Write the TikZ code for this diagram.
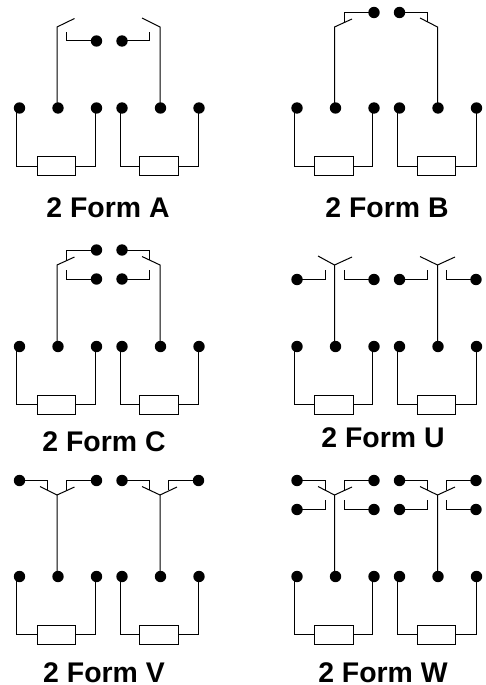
\documentclass[tikz,border=0pt]{standalone}
\usepackage{fontspec}
\setmainfont{Liberation Sans}
\usetikzlibrary{backgrounds}
\tikzset{
  wire/.style={draw=black,line width=1pt,line join=miter},
  dot/.style={circle,fill=black,draw=none,minimum size=11.4pt,inner sep=0pt},
  coilbox/.style={rectangle,draw=black,fill=white,line width=1pt,minimum width=38.5pt,minimum height=19pt,inner sep=0pt},
  formlabel/.style={font=\bfseries\fontsize{28.4}{30}\selectfont,inner sep=0pt,anchor=base}
}
% coil unit: three lower terminals, coil and its two leads
\newcommand{\coilunit}[4]{%
  \node[dot] (#1L) at (#2,#3) {};
  \node[dot] (#1M) at (#2+38.5,#3) {};
  \node[dot] (#1R) at (#2+77,#3) {};
  \node[coilbox] (#1B) at (#2+37,#3+58) {};
  \begin{scope}[on background layer]
    \draw[wire] ([xshift=-2pt+#4pt]#1L.center) |- (#1B.west);
    \draw[wire] ([xshift=-0.5pt+#4pt]#1R.center) |- (#1B.east);
  \end{scope}
}
% contact terminal: dot, horizontal wire, stub to (bend x, end y)
\newcommand{\contact}[5]{%
  \node[dot] (#1) at (#2,#3) {};
  \coordinate (#1e) at (#4,#5);
  \begin{scope}[on background layer]
    \draw[wire] (#1.center) -| (#1e);
  \end{scope}
}
% common arm with single blade
\newcommand{\armone}[6]{%
  \coordinate (#1k) at (#3,#4);
  \coordinate (#1a) at (#5,#6);
  \begin{scope}[on background layer]
    \draw[wire] (#2.center -| #1k) -- (#1k) -- (#1a);
  \end{scope}
}
% common arm with two blades
\newcommand{\armtwo}[8]{%
  \coordinate (#1k) at (#3,#4);
  \coordinate (#1a) at (#5,#6);
  \coordinate (#1b) at (#7,#8);
  \begin{scope}[on background layer]
    \draw[wire] (#2.center -| #1k) -- (#1k) -- (#1a);
    \draw[wire] (#1k) -- (#1b);
  \end{scope}
}
\begin{document}
\begin{tikzpicture}[x=1pt,y=-1pt]
\useasboundingbox (0,0) rectangle (485,685);
% ---- 2 Form A
\coilunit{aa}{19.5}{108}{-1}
\coilunit{ab}{122}{108}{0}
\contact{aa1}{96.5}{41}{66}{32}
\contact{ab1}{122}{41}{149}{32}
\armone{aaarm}{aaM}{57}{27}{74.5}{18.5}
\armone{abarm}{abM}{160}{27}{142}{18}
\node[formlabel] (la) at (108,217.5) {2 Form A};
% ---- 2 Form B
\coilunit{ba}{297}{108}{-1}
\coilunit{bb}{399.5}{108}{0}
\contact{ba1}{374}{12.5}{344}{22}
\contact{bb1}{399.5}{12.5}{427}{22}
\armone{baarm}{baM}{334.5}{27}{352}{19}
\armone{bbarm}{bbM}{437.5}{27}{420}{18}
\node[formlabel] (lb) at (387,217.5) {2 Form B};
% ---- 2 Form C
\coilunit{ca}{19.5}{346.5}{-1}
\coilunit{cb}{122}{346.5}{0}
\contact{ca1}{96.5}{250}{66}{260}
\contact{ca2}{96.5}{279}{66}{270}
\contact{cb1}{122}{250}{149}{260}
\contact{cb2}{122}{279}{149}{270}
\armone{caarm}{caM}{57}{265}{74.5}{257}
\armone{cbarm}{cbM}{160}{265}{142}{256.5}
\node[formlabel] (lc) at (104,451.5) {2 Form C};
% ---- 2 Form U
\coilunit{ua}{297}{346.5}{-1}
\coilunit{ub}{399.5}{346.5}{0}
\contact{ua1}{297}{279.5}{325}{270}
\contact{ua2}{374}{279.5}{344}{270}
\contact{ub1}{399.5}{279.5}{427}{270}
\contact{ub2}{476}{279.5}{446}{270}
\armtwo{uaarm}{uaM}{334.5}{265}{318}{256}{352}{257}
\armtwo{ubarm}{ubM}{437.5}{265}{420}{256.5}{455}{257}
\node[formlabel] (lu) at (383,447.5) {2 Form U};
% ---- 2 Form V
\coilunit{va}{19.5}{576.5}{-1}
\coilunit{vb}{122}{576.5}{0}
\contact{va1}{19.5}{480.5}{47}{490}
\contact{va2}{96.5}{480.5}{66}{490}
\contact{vb1}{122}{480.5}{149}{490}
\contact{vb2}{198.5}{480.5}{168}{490}
\armtwo{vaarm}{vaM}{57}{495}{40}{486.5}{74.5}{487}
\armtwo{vbarm}{vbM}{160}{495}{142}{486.5}{177}{487}
\node[formlabel] (lv) at (104,682) {2 Form V};
% ---- 2 Form W
\coilunit{wa}{297}{576.5}{-1}
\coilunit{wb}{399.5}{576.5}{0}
\contact{wa1}{297}{480.5}{325}{490}
\contact{wa2}{374}{480.5}{344}{490}
\contact{wa3}{297}{509.5}{325}{500}
\contact{wa4}{374}{509.5}{344}{500}
\contact{wb1}{399.5}{480.5}{427}{490}
\contact{wb2}{476}{480.5}{446}{490}
\contact{wb3}{399.5}{509.5}{427}{500}
\contact{wb4}{476}{509.5}{446}{500}
\armtwo{waarm}{waM}{334.5}{495}{318}{486.5}{352}{487}
\armtwo{wbarm}{wbM}{437.5}{495}{420}{486.5}{455}{487}
\node[formlabel] (lw) at (383,682) {2 Form W};
\end{tikzpicture}
\end{document}
